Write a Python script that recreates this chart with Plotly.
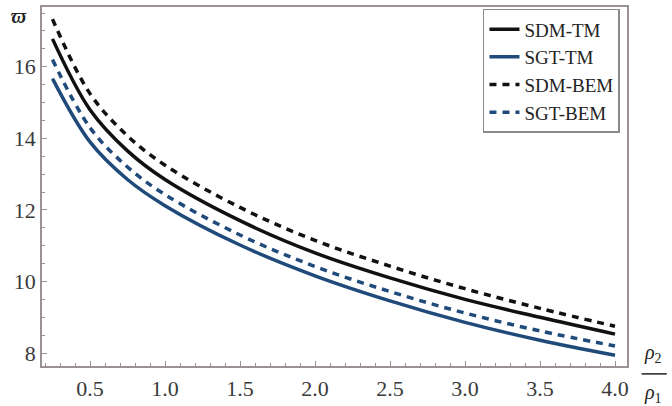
import plotly.graph_objects as go

x_vals = [0.25, 0.5, 0.75, 1.0, 1.5, 2.0, 2.5, 3.0, 3.5, 4.0]
sdm_tm = [16.78, 14.8, 13.65, 12.85, 11.7, 10.8, 10.1, 9.5, 9.0, 8.53]
sgt_tm = [15.67, 13.9, 12.85, 12.12, 11.02, 10.16, 9.46, 8.86, 8.36, 7.94]
sdm_bem = [17.33, 15.25, 14.07, 13.25, 12.07, 11.15, 10.43, 9.8, 9.25, 8.75]
sgt_bem = [16.2, 14.3, 13.2, 12.43, 11.3, 10.42, 9.72, 9.12, 8.62, 8.2]

x_ticks = [0.5, 1.0, 1.5, 2.0, 2.5, 3.0, 3.5, 4.0]
x_tick_text = ["0.5", "1.0", "1.5", "2.0", "2.5", "3.0", "3.5", "4.0"]
y_ticks = [8, 10, 12, 14, 16]

BLACK = "#111111"
BLUE = "#1f4a7a"
FONT = "Liberation Serif, Times New Roman, serif"

series = [
    ("SDM-TM", sdm_tm, BLACK, "solid"),
    ("SGT-TM", sgt_tm, BLUE, "solid"),
    ("SDM-BEM", sdm_bem, BLACK, "7px,6px"),
    ("SGT-BEM", sgt_bem, BLUE, "7px,6px"),
]

fig = go.Figure()
for name, ys, col, dash in series:
    fig.add_trace(go.Scatter(
        x=x_vals, y=ys, mode="lines", name=name,
        line=dict(color=col, width=3.5, dash=dash, shape="spline", smoothing=1.0),
    ))

frame = "#9a9292"
tickfont = dict(family=FONT, size=22, color="#3a3a3a")
fig.update_layout(
    width=672, height=406,
    margin=dict(l=42, r=45, t=5, b=40),
    paper_bgcolor="white", plot_bgcolor="white",
    font=dict(family=FONT, size=20, color="#333333"),
    showlegend=True,
    legend=dict(
        x=0.988, y=0.995, xanchor="right", yanchor="top",
        bordercolor="#8a8a8a", borderwidth=1.5, bgcolor="white",
        font=dict(family=FONT, size=19, color="#222222"),
        tracegroupgap=0,
    ),
    xaxis=dict(
        range=[0.18, 4.08], tickvals=x_ticks, ticktext=x_tick_text,
        showgrid=False, zeroline=False, showline=True, linecolor=frame,
        linewidth=1.5, mirror=True, ticks="inside", ticklen=5,
        tickcolor=frame, ticklabelstandoff=2, tickfont=tickfont,
        minor=dict(ticks="inside", ticklen=3, dtick=0.1, tickcolor=frame),
    ),
    yaxis=dict(
        range=[7.64, 17.67], tickvals=y_ticks,
        showgrid=False, zeroline=False, showline=True, linecolor=frame,
        linewidth=1.5, mirror=True, ticks="inside", ticklen=5,
        tickcolor=frame, ticklabelstandoff=0, tickfont=tickfont,
        minor=dict(ticks="inside", ticklen=3, dtick=0.5, tickcolor=frame),
    ),
)

fig.add_annotation(
    text="<i><b>ϖ</b></i>", xref="paper", yref="paper", x=-0.04, y=0.975,
    xanchor="center", yanchor="middle", showarrow=False,
    font=dict(family=FONT, size=20, color="#222222"),
)
fig.add_annotation(
    text="<i>ρ</i><sub>2</sub>", xref="paper", yref="paper", x=1.045, y=-0.005,
    xanchor="center", yanchor="bottom", showarrow=False,
    font=dict(family=FONT, size=20, color="#222222"),
)
fig.add_annotation(
    text="<i>ρ</i><sub>1</sub>", xref="paper", yref="paper", x=1.045, y=-0.035,
    xanchor="center", yanchor="top", showarrow=False,
    font=dict(family=FONT, size=20, color="#222222"),
)
fig.add_shape(
    type="line", xref="paper", yref="paper", x0=1.025, x1=1.068, y0=-0.022, y1=-0.022,
    line=dict(color="#222222", width=1.5),
)

fig.write_html("out.html", post_script="document.body.style.margin='0';",
               config={"displayModeBar": False})
